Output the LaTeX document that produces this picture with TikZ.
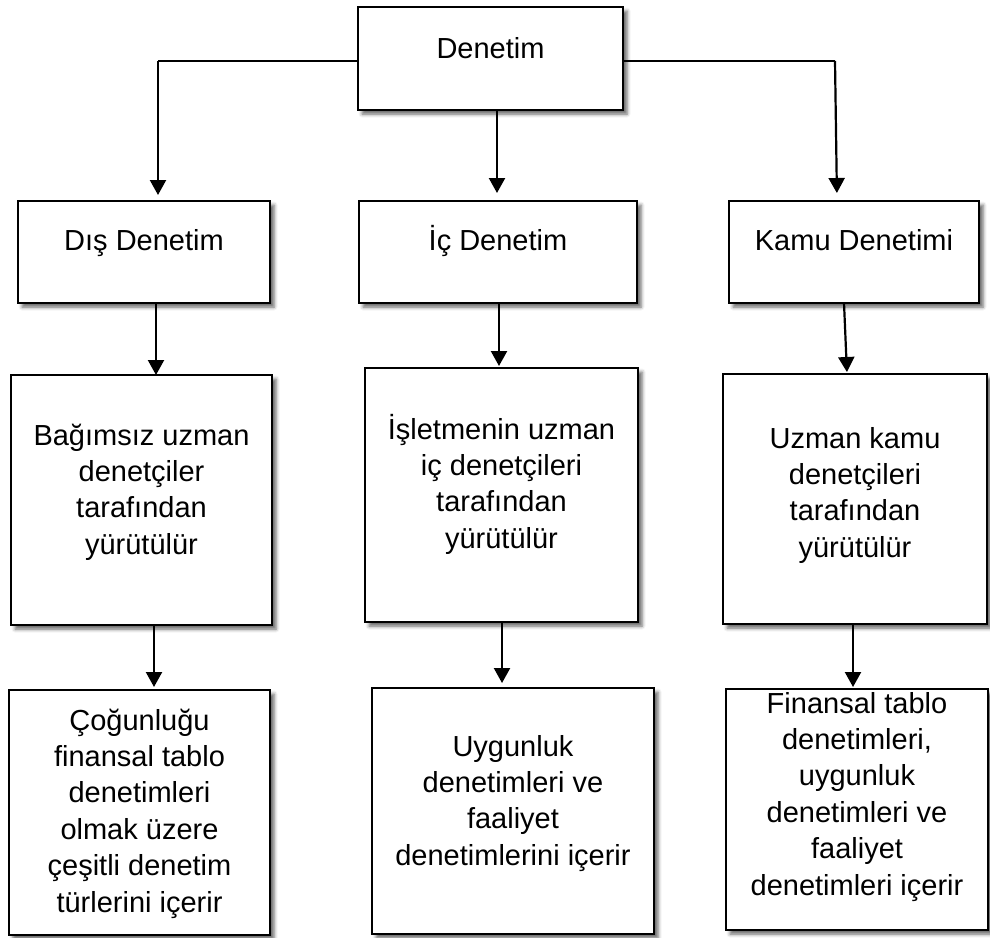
\documentclass[tikz,border=0pt]{standalone}
\usepackage{fontspec}
\setmainfont{Liberation Sans}
\usetikzlibrary{arrows.meta,shadows.blur}

% text block of a box: width, height, first baseline from top, lines
\newcommand{\boxtxt}[4]{\parbox[c][#2][t]{#1}{\centering\rule{0pt}{#3}#4\par}}

\tikzset{
  card/.style={draw=black, line width=2.4pt, fill=white, inner sep=0pt, outer sep=0pt,
    font=\fontsize{29}{36.4}\selectfont,
    blur shadow={shadow xshift=4pt, shadow yshift=-4pt, shadow blur radius=3.5pt, shadow opacity=60}},
  arr/.style={line width=2.2pt, -{Triangle[width=16pt,length=15pt]}},
  link/.style={line width=1.2pt}
}

\begin{document}
\begin{tikzpicture}[x=1pt,y=-1pt]
\useasboundingbox (0,0) rectangle (990,937);

% level 0
\node[card] (top) at (490.5,58.5) {\boxtxt{265pt}{103pt}{51pt}{Denetim}};

% level 1
\node[card] (dis)  at (144,252) {\boxtxt{252pt}{102pt}{49pt}{Dış Denetim}};
\node[card] (ic)   at (498,252) {\boxtxt{278pt}{102pt}{49pt}{İç Denetim}};
\node[card] (kamu) at (854,252) {\boxtxt{250pt}{102pt}{49pt}{Kamu Denetimi}};

% level 2
\node[card] (bag) at (141.5,500) {\boxtxt{261pt}{250pt}{70pt}{Bağımsız uzman\\denetçiler\\tarafından\\yürütülür}};
\node[card] (isl) at (501.5,495) {\boxtxt{273pt}{254pt}{71pt}{İşletmenin uzman\\iç denetçileri\\tarafından\\yürütülür}};
\node[card] (uzm) at (855,499)   {\boxtxt{264pt}{250pt}{74pt}{Uzman kamu\\denetçileri\\tarafından\\yürütülür}};

% level 3
\node[card] (cog) at (139.5,812.5) {\boxtxt{261pt}{245pt}{40pt}{Çoğunluğu\\finansal tablo\\denetimleri\\olmak üzere\\çeşitli denetim\\türlerini içerir}};
\node[card] (uyg) at (513,811)     {\boxtxt{282pt}{246pt}{68pt}{Uygunluk\\denetimleri ve\\faaliyet\\denetimlerini içerir}};
\node[card] (fin) at (857,809.5)   {\boxtxt{262pt}{241pt}{24pt}{Finansal tablo\\denetimleri,\\uygunluk\\denetimleri ve\\faaliyet\\denetimleri içerir}};

% branch corners
\coordinate (jl) at (158,61);
\coordinate (jr) at (835,61);

% level 0 -> level 1
\draw[link] (jl -| top.west) -- (jl);
\draw[link] (jr -| top.east) -- (jr);
\draw[arr, shorten >=6pt] (jl) -- (jl |- dis.north);
\draw[arr, shorten >=8pt] (jr) -- ([xshift=2pt]jr |- kamu.north);
\draw[arr, shorten >=8pt] (top.south -| 497,0) -- (ic.north -| 497,0);

% level 1 -> level 2
\draw[arr] (dis.south -| 156,0) -- (bag.north -| 156,0);
\draw[arr, shorten >=2pt] (ic.south -| 499,0) -- (isl.north -| 499,0);
\draw[arr, shorten >=2pt] (kamu.south -| 844,0) -- (uzm.north -| 847,0);

% level 2 -> level 3
\draw[arr, shorten >=3pt] (bag.south -| 154,0) -- (cog.north -| 154,0);
\draw[arr, shorten >=5pt] (isl.south -| 502,0) -- (uyg.north -| 502,0);
\draw[arr, shorten >=2pt] (uzm.south -| 853,0) -- (fin.north -| 853,0);
\end{tikzpicture}
\end{document}
